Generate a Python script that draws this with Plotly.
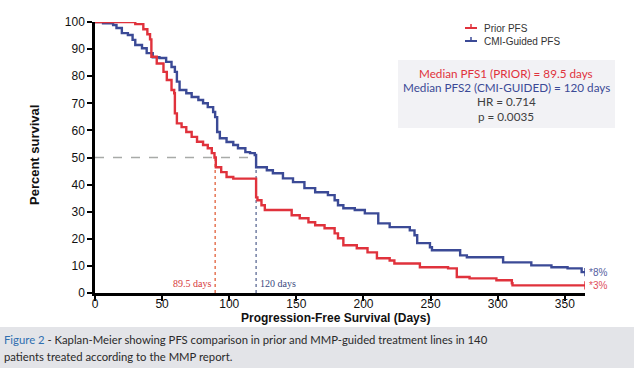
import plotly.graph_objects as go

# ---------------- data ----------------
prior_days = [0, 30, 36, 39, 41, 42, 46, 51, 53.5, 57, 59, 59.5, 61, 64.5, 68, 72, 76, 80.5, 84, 87,
              89, 90, 94, 98, 103, 120, 121, 124, 126.5, 146.5, 152.5, 159, 164, 171, 178.5, 181,
              185, 195, 203, 210, 219.5, 223, 242, 263, 269.5, 279, 299, 310.5, 311, 365]
prior_surv = [100, 99.2, 97.3, 95.5, 93.6, 87.2, 84.7, 81.6, 78.6, 74.9, 73.7, 66.3, 62.6, 61.2, 59.4,
              57.6, 55.8, 54.6, 53.4, 51.6, 50.0, 46.4, 44.6, 42.8, 42.2, 35.3, 34.2, 32.4, 30.6, 28.7,
              27.6, 26.1, 25.0, 23.9, 22.0, 20.2, 17.6, 16.5, 15.0, 12.8, 12.0, 10.9, 9.5, 9.1, 5.9,
              5.4, 4.7, 3.6, 2.8, 2.8]

cmi_days = [0, 6, 13.5, 16, 20, 24.5, 28, 30, 35, 38.5, 43, 48, 53, 57, 59.5, 61, 63, 68, 72, 77, 80.5,
            84, 88, 89.5, 91, 93, 98, 103, 106.5, 112, 115.5, 119, 120, 128, 132.5, 140, 147.5, 156,
            164, 173.5, 178.5, 181, 185, 193.5, 201, 211, 219.5, 234.5, 238, 240, 249.5, 251, 272,
            277, 304, 325, 340, 352, 362.5, 365]
cmi_surv = [100, 99.5, 98.9, 97.8, 95.9, 95.2, 93.4, 91.5, 90.3, 88.5, 87.0, 86.7, 85.3, 83.4, 81.6,
            78.0, 74.9, 73.7, 72.3, 71.2, 70.0, 68.6, 66.8, 64.9, 59.4, 57.1, 55.7, 54.6, 53.4, 52.0,
            51.6, 50.9, 46.4, 45.3, 44.2, 42.3, 40.9, 38.7, 37.2, 36.1, 34.2, 32.4, 31.3, 30.6, 29.4,
            25.7, 24.3, 23.1, 21.3, 18.4, 16.9, 15.8, 13.9, 13.2, 11.3, 10.2, 9.5, 9.1, 7.7, 7.7]

median_prior = 89.5
median_cmi = 120
x_ticks = [0, 50, 100, 150, 200, 250, 300, 350]
y_ticks = [0, 10, 20, 30, 40, 50, 60, 70, 80, 90, 100]
end_labels = ["*8%", "*3%"]

RED = "#e0323c"
BLUE = "#3b4a96"

# plot area in pixels
L, R, T, B = 95, 585, 22, 293
W, H = R - L, B - T


def px(x):
    return (x - L) / W


def py(y):
    return (B - y) / H


fig = go.Figure()

# median guide lines
fig.add_trace(go.Scatter(x=[0, median_cmi], y=[50, 50], mode="lines",
                         line=dict(color="#a8aaa8", width=1.3, dash="dash"), showlegend=False,
                         hoverinfo="skip"))
fig.add_trace(go.Scatter(x=[median_prior, median_prior], y=[0, 50], mode="lines",
                         line=dict(color="#e2603a", width=1.3, dash="dot"), showlegend=False,
                         hoverinfo="skip"))
fig.add_trace(go.Scatter(x=[median_cmi, median_cmi], y=[0, 50], mode="lines",
                         line=dict(color="#5d6b95", width=1.3, dash="dot"), showlegend=False,
                         hoverinfo="skip"))

# KM curves
fig.add_trace(go.Scatter(x=cmi_days, y=cmi_surv, mode="lines", line_shape="hv",
                         line=dict(color=BLUE, width=2.4), name="CMI-Guided PFS", showlegend=False))
fig.add_trace(go.Scatter(x=prior_days, y=prior_surv, mode="lines", line_shape="hv",
                         line=dict(color=RED, width=2.4), name="Prior PFS", showlegend=False))

# censor marks at the ends
fig.add_trace(go.Scatter(x=[cmi_days[-1]], y=[cmi_surv[-1]], mode="markers",
                         marker=dict(symbol="line-ns", size=6, line=dict(color=BLUE, width=1.5)),
                         showlegend=False, hoverinfo="skip"))
fig.add_trace(go.Scatter(x=[prior_days[-1]], y=[prior_surv[-1]], mode="markers",
                         marker=dict(symbol="line-ns", size=6, line=dict(color=RED, width=1.5)),
                         showlegend=False, hoverinfo="skip"))

shapes = []
annotations = []

# legend (manual)
for yy, col, txt in [(28, RED, "Prior PFS"), (41, BLUE, "CMI-Guided PFS")]:
    shapes.append(dict(type="line", xref="paper", yref="paper", x0=px(465), x1=px(477),
                       y0=py(yy), y1=py(yy), line=dict(color=col, width=2)))
    shapes.append(dict(type="line", xref="paper", yref="paper", x0=px(471), x1=px(471),
                       y0=py(yy), y1=py(yy - 4), line=dict(color=col, width=1.5)))
    annotations.append(dict(xref="paper", yref="paper", x=px(482), y=py(yy), text=txt,
                            showarrow=False, xanchor="left", yanchor="middle",
                            font=dict(family="Liberation Sans, Arial", size=10, color="#333333")))

# stats box
shapes.append(dict(type="rect", xref="paper", yref="paper", x0=px(398), x1=px(615),
                   y0=py(128), y1=py(60), fillcolor="#f2f2f5", line=dict(width=0), layer="below"))
box_lines = [("Median PFS1 (PRIOR) = 89.5 days", "#e0323c", 73),
             ("Median PFS2 (CMI-GUIDED) = 120 days", "#3b4a96", 87),
             ("HR = 0.714", "#404040", 101),
             ("p = 0.0035", "#404040", 116)]
for txt, col, yy in box_lines:
    annotations.append(dict(xref="paper", yref="paper", x=px(506), y=py(yy), text=txt,
                            showarrow=False, xanchor="center", yanchor="middle",
                            font=dict(family="Lato", size=11.7, color=col)))

# median labels
annotations.append(dict(x=median_prior, y=0, xref="x", yref="y", text="89.5 days", showarrow=False,
                        xanchor="right", yanchor="bottom", xshift=-2, yshift=2,
                        font=dict(family="Liberation Serif", size=10, color="#d63a3a")))
annotations.append(dict(x=median_cmi, y=0, xref="x", yref="y", text="120 days", showarrow=False,
                        xanchor="left", yanchor="bottom", xshift=2, yshift=2,
                        font=dict(family="Liberation Serif", size=10, color="#3b4a80")))

# end labels
annotations.append(dict(x=cmi_days[-1], y=cmi_surv[-1], xref="x", yref="y", text=end_labels[0],
                        showarrow=False, xanchor="left", yanchor="middle", xshift=2,
                        font=dict(family="Liberation Sans, Arial", size=10, color="#5560a0")))
annotations.append(dict(x=prior_days[-1], y=prior_surv[-1], xref="x", yref="y", text=end_labels[1],
                        showarrow=False, xanchor="left", yanchor="middle", xshift=2,
                        font=dict(family="Liberation Sans, Arial", size=10, color="#e0505a")))

# caption
shapes.append(dict(type="rect", xref="paper", yref="paper", x0=px(0), x1=px(634),
                   y0=py(369), y1=py(327), fillcolor="#e3e4e8", line=dict(width=0), layer="below"))
annotations.append(dict(xref="paper", yref="paper", x=px(2), y=py(339),
                        text="<span style='color:#2f6fb0'>Figure 2</span> - Kaplan-Meier showing PFS comparison in prior and MMP-guided treatment lines in 140",
                        showarrow=False, xanchor="left", yanchor="middle",
                        font=dict(family="Lato", size=11.3, color="#2a2a2a")))
annotations.append(dict(xref="paper", yref="paper", x=px(2), y=py(356),
                        text="patients treated according to the MMP report.",
                        showarrow=False, xanchor="left", yanchor="middle",
                        font=dict(family="Lato", size=11.3, color="#2a2a2a")))

# axis titles
annotations.append(dict(xref="paper", yref="paper", x=px(335), y=py(318),
                        text="<b>Progression-Free Survival (Days)</b>", showarrow=False,
                        xanchor="center", yanchor="middle",
                        font=dict(family="Liberation Sans, Arial", size=12, color="#111111")))
annotations.append(dict(xref="paper", yref="paper", x=px(34), y=py(155),
                        text="<b>Percent survival</b>", showarrow=False, textangle=-90,
                        xanchor="center", yanchor="middle",
                        font=dict(family="Liberation Sans, Arial", size=13, color="#111111")))

fig.update_layout(
    width=640, height=368,
    margin=dict(l=L, r=640 - R, t=T, b=368 - B),
    paper_bgcolor="white", plot_bgcolor="white",
    showlegend=False,
    shapes=shapes, annotations=annotations,
    xaxis=dict(range=[0, 365], tickvals=x_ticks, ticks="outside", ticklen=5, tickwidth=2,
               tickcolor="black", showline=True, linecolor="black", linewidth=2.5,
               showgrid=False, zeroline=False, ticklabelstandoff=-7,
               tickfont=dict(family="Liberation Sans, Arial", size=12, color="#111111"),
               tickprefix="<b>", ticksuffix="</b>"),
    yaxis=dict(range=[0, 100], tickvals=y_ticks, ticks="outside", ticklen=5, tickwidth=2,
               tickcolor="black", showline=True, linecolor="black", linewidth=2.5,
               showgrid=False, zeroline=False,
               tickfont=dict(family="Liberation Sans, Arial", size=12, color="#111111"),
               tickprefix="<b>", ticksuffix="</b>"),
)

fig.write_html("out.html", config={"displayModeBar": False},
               post_script="document.body.style.margin='0px';document.body.style.overflow='hidden';")
